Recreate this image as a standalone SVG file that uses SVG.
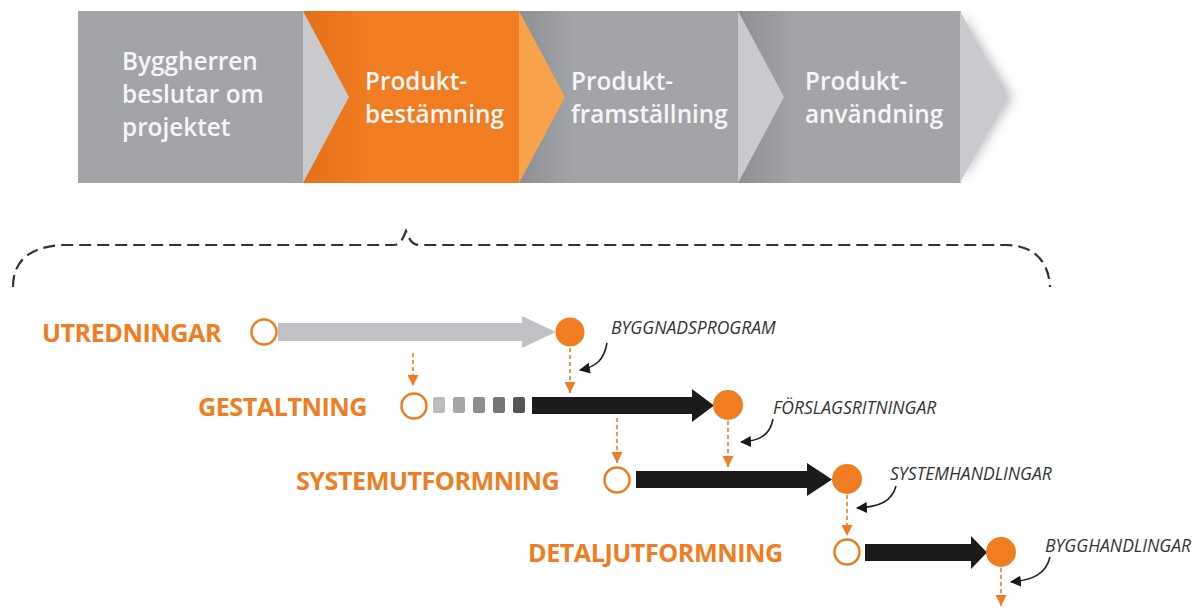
<svg xmlns="http://www.w3.org/2000/svg" width="1197" height="608" viewBox="0 0 1197 608">
  <defs>
    <style>
      .band-txt { font-family: "Open Sans", "Liberation Sans", sans-serif; font-weight: 600; font-size: 24.3px; fill: #f6f6f6; }
      .phase { font-family: "Open Sans", "Liberation Sans", sans-serif; font-weight: 700; font-size: 25.2px; fill: #f07d22; letter-spacing: -0.5px; }
      .doc { font-family: "Open Sans", "Liberation Sans", sans-serif; font-style: italic; font-size: 17.5px; fill: #333333; letter-spacing: 0px; }
      .body-gray { fill: #a3a4a7; }
      .tip-gray { fill: #c9cace; }
      .open { fill: #ffffff; stroke: #f07d22; stroke-width: 2.5; }
      .done { fill: #f07d22; }
      .flow { stroke: #f07d22; stroke-width: 1.6; stroke-dasharray: 4 3; fill: none; marker-end: url(#oHead); }
      .note { stroke: #222222; stroke-width: 1.6; fill: none; marker-end: url(#bHead); }
      .brace { stroke: #333333; stroke-width: 2.2; stroke-dasharray: 12 6; fill: none; }
    </style>
    <marker id="oHead" viewBox="0 0 10 10" refX="10" refY="5" markerWidth="11" markerHeight="11" markerUnits="userSpaceOnUse" orient="auto">
      <path d="M0,0 L10,5 L0,10 z" fill="#f07d22"/>
    </marker>
    <marker id="bHead" viewBox="0 0 10 10" refX="9" refY="5" markerWidth="11" markerHeight="11" markerUnits="userSpaceOnUse" orient="auto">
      <path d="M0,0 L10,5 L0,10 z" fill="#1a1a1a"/>
    </marker>
    <linearGradient id="shadeGray" x1="0" y1="0" x2="1" y2="0">
      <stop offset="0" stop-color="#8e8f93"/>
      <stop offset="0.25" stop-color="#a3a4a7"/>
      <stop offset="1" stop-color="#a3a4a7"/>
    </linearGradient>
    <linearGradient id="shadeOrange" x1="0" y1="0" x2="1" y2="0">
      <stop offset="0" stop-color="#e36f18"/>
      <stop offset="0.3" stop-color="#f07d22"/>
      <stop offset="1" stop-color="#f07d22"/>
    </linearGradient>
    <filter id="soft" x="-50%" y="-20%" width="200%" height="140%">
      <feGaussianBlur stdDeviation="6"/>
    </filter>
  </defs>

  <!-- phase band -->
  <g id="band">
    <path d="M962,14 L1012,97 L962,180 z" fill="#7d7e82" opacity="0.55" filter="url(#soft)"/>
    <g id="phase-decision">
      <rect x="78" y="11" width="226" height="172" class="body-gray"/>
      <text class="band-txt" x="122" y="70">Byggherren</text>
      <text class="band-txt" x="122" y="103">beslutar om</text>
      <text class="band-txt" x="122" y="136">projektet</text>
    </g>
    <g id="phase-definition">
      <rect x="303" y="11" width="217" height="172" fill="url(#shadeOrange)"/>
      <polygon points="303,11 349,97 303,183" class="tip-gray"/>
      <text class="band-txt" x="365" y="90">Produkt-</text>
      <text class="band-txt" x="365" y="123">bestämning</text>
    </g>
    <g id="phase-production">
      <rect x="519" y="11" width="220" height="172" fill="url(#shadeGray)"/>
      <polygon points="519,11 565,97 519,183" fill="#f9a24c"/>
      <text class="band-txt" x="571" y="90">Produkt-</text>
      <text class="band-txt" x="571" y="123">framställning</text>
    </g>
    <g id="phase-use">
      <rect x="738" y="11" width="223" height="172" fill="url(#shadeGray)"/>
      <polygon points="738,11 784,97 738,183" class="tip-gray"/>
      <polygon points="960,11 1006,97 960,183" class="tip-gray"/>
      <text class="band-txt" x="805" y="90">Produkt-</text>
      <text class="band-txt" x="805" y="123">användning</text>
    </g>
  </g>

  <!-- dashed brace under the definition phase -->
  <path class="brace" d="M13,287 C13,262 28,247 62,245 L394,245 C400,245 403,239 406,231 C409,239 412,245 419,245 L1006,245 C1034,245 1049,262 1050,287"/>

  <!-- connectors -->
  <g id="connectors">
    <path class="flow" d="M413,353 L413,386"/>
    <path class="flow" d="M570,348 L570,393"/>
    <path class="flow" d="M617,418 L617,463"/>
    <path class="flow" d="M728,421 L728,467"/>
    <path class="flow" d="M847,495 L847,536"/>
    <path class="flow" d="M1001,568 L1001,606"/>
    <path class="note" d="M607,343 C604,360 596,367 580,370"/>
    <path class="note" d="M773,419 C770,435 760,441 741,442"/>
    <path class="note" d="M896,486 C892,501 880,507 857,508"/>
    <path class="note" d="M1050,557 C1046,574 1033,580 1011,582"/>
  </g>

  <!-- investigations -->
  <g id="row-utredningar">
    <text class="phase" x="42" y="342">UTREDNINGAR</text>
    <circle class="open" cx="264" cy="332" r="12.5"/>
    <rect x="278" y="323" width="246" height="18" fill="#c1c2c5"/>
    <polygon points="522,316 556,332 522,348" fill="#c1c2c5"/>
    <circle class="done" cx="570" cy="332" r="14.5"/>
    <text class="doc" x="611" y="334">BYGGNADSPROGRAM</text>
  </g>

  <!-- design -->
  <g id="row-gestaltning">
    <text class="phase" x="198" y="416">GESTALTNING</text>
    <circle class="open" cx="414" cy="406" r="12.5"/>
    <rect x="433" y="397" width="12" height="16" rx="2" fill="#bdbdbd"/>
    <rect x="453" y="397" width="12" height="16" rx="2" fill="#a6a6a6"/>
    <rect x="473" y="397" width="12" height="16" rx="2" fill="#8e8e8e"/>
    <rect x="493" y="397" width="12" height="16" rx="2" fill="#757575"/>
    <rect x="513" y="397" width="12" height="16" rx="2" fill="#555555"/>
    <rect x="532" y="397" width="163" height="17" fill="#1c1a1b"/>
    <polygon points="692,389 714,405.5 692,422" fill="#1c1a1b"/>
    <circle class="done" cx="728" cy="405" r="15"/>
    <text class="doc" x="773" y="414">FÖRSLAGSRITNINGAR</text>
  </g>

  <!-- system design -->
  <g id="row-systemutformning">
    <text class="phase" x="296" y="490">SYSTEMUTFORMNING</text>
    <circle class="open" cx="617" cy="480" r="12.5"/>
    <rect x="636" y="471" width="174" height="17" fill="#1c1a1b"/>
    <polygon points="807,463 832,479.5 807,496" fill="#1c1a1b"/>
    <circle class="done" cx="847" cy="479" r="15"/>
    <text class="doc" x="890" y="480">SYSTEMHANDLINGAR</text>
  </g>

  <!-- detailed design -->
  <g id="row-detaljutformning">
    <text class="phase" x="528" y="562">DETALJUTFORMNING</text>
    <circle class="open" cx="847" cy="552" r="12.5"/>
    <rect x="865" y="544" width="110" height="17" fill="#1c1a1b"/>
    <polygon points="971,536 987,552.5 971,569" fill="#1c1a1b"/>
    <circle class="done" cx="1001" cy="552" r="15"/>
    <text class="doc" x="1045" y="552">BYGGHANDLINGAR</text>
  </g>
</svg>
